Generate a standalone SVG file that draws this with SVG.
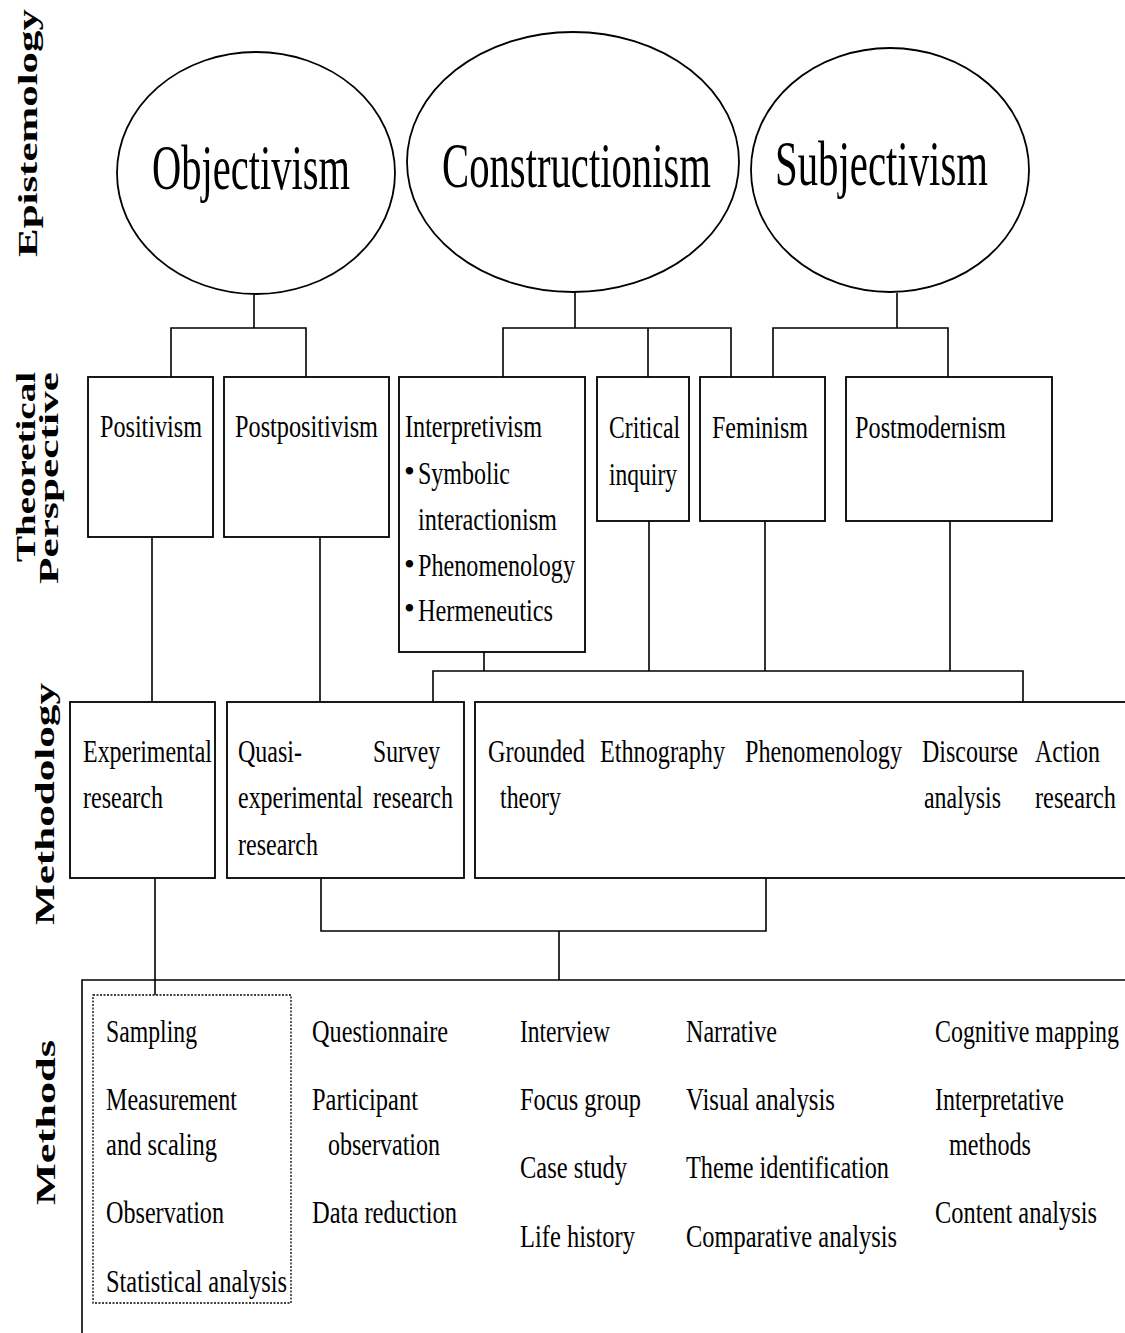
<svg xmlns="http://www.w3.org/2000/svg" width="1125" height="1333" viewBox="0 0 1125 1333">
  <style>
    .shape { fill: #fff; stroke: #000; stroke-width: 1.8; }
    .wire { fill: none; stroke: #000; stroke-width: 1.6; }
    .dots { fill: none; stroke: #000; stroke-width: 1.3; stroke-dasharray: 2 1.5; }
    text { font-family: "Liberation Serif", "Times New Roman", serif; fill: #000; }
    .big { font-size: 64px; }
    .lbl { font-size: 31px; }
    .side { font-size: 27px; font-weight: bold; }
  </style>
  <rect width="1125" height="1333" fill="#fff"/>

  <!-- Level labels, rotated -->
  <g id="level-labels">
    <text class="side" transform="translate(37,257) rotate(-90)" textLength="248" lengthAdjust="spacingAndGlyphs">Epistemology</text>
    <text class="side" transform="translate(35,562) rotate(-90)" textLength="190" lengthAdjust="spacingAndGlyphs">Theoretical</text>
    <text class="side" transform="translate(58,584) rotate(-90)" textLength="212" lengthAdjust="spacingAndGlyphs">Perspective</text>
    <text class="side" transform="translate(54,925) rotate(-90)" textLength="242" lengthAdjust="spacingAndGlyphs">Methodology</text>
    <text class="side" transform="translate(55,1205) rotate(-90)" textLength="165" lengthAdjust="spacingAndGlyphs">Methods</text>
  </g>

  <!-- Connectors -->
  <g id="connectors" class="wire">
    <path d="M254 295 V328 M171 377 V328 H306 V377"/>
    <path d="M575 292 V328 M503 377 V328 H731 V377 M648 328 V377"/>
    <path d="M897 293 V328 M773 377 V328 H948 V377"/>
    <path d="M152 537 V702"/>
    <path d="M320 537 V702"/>
    <path d="M484 652 V671 M649 521 V671 M765 521 V671 M950 521 V671"/>
    <path d="M433 702 V671 H1023 V702"/>
    <path d="M321 878 V931 H766 V878 M559 931 V980"/>
    <path d="M155 878 V995"/>
  </g>

  <!-- Epistemology -->
  <g id="objectivism">
    <ellipse class="shape" cx="256" cy="173" rx="139" ry="121"/>
    <text class="big" x="152" y="189" textLength="198" lengthAdjust="spacingAndGlyphs">Objectivism</text>
  </g>
  <g id="constructionism">
    <ellipse class="shape" cx="573" cy="162" rx="166" ry="130"/>
    <text class="big" x="442" y="187" textLength="269" lengthAdjust="spacingAndGlyphs">Constructionism</text>
  </g>
  <g id="subjectivism">
    <ellipse class="shape" cx="890" cy="170" rx="139" ry="122"/>
    <text class="big" x="775" y="185" textLength="213" lengthAdjust="spacingAndGlyphs">Subjectivism</text>
  </g>

  <!-- Theoretical perspective -->
  <g id="positivism">
    <rect class="shape" x="88" y="377" width="125" height="160"/>
    <text class="lbl" x="100" y="437" textLength="102" lengthAdjust="spacingAndGlyphs">Positivism</text>
  </g>
  <g id="postpositivism">
    <rect class="shape" x="224" y="377" width="165" height="160"/>
    <text class="lbl" x="235" y="437" textLength="143" lengthAdjust="spacingAndGlyphs">Postpositivism</text>
  </g>
  <g id="interpretivism">
    <rect class="shape" x="399" y="377" width="186" height="275"/>
    <text class="lbl" x="405" y="437" textLength="137" lengthAdjust="spacingAndGlyphs">Interpretivism</text>
    <text class="lbl" x="404" y="482">•</text>
    <text class="lbl" x="418" y="484" textLength="92" lengthAdjust="spacingAndGlyphs">Symbolic</text>
    <text class="lbl" x="418" y="530" textLength="139" lengthAdjust="spacingAndGlyphs">interactionism</text>
    <text class="lbl" x="404" y="575">•</text>
    <text class="lbl" x="418" y="576" textLength="157" lengthAdjust="spacingAndGlyphs">Phenomenology</text>
    <text class="lbl" x="404" y="619">•</text>
    <text class="lbl" x="418" y="621" textLength="135" lengthAdjust="spacingAndGlyphs">Hermeneutics</text>
  </g>
  <g id="critical-inquiry">
    <rect class="shape" x="597" y="377" width="92" height="144"/>
    <text class="lbl" x="609" y="438" textLength="71" lengthAdjust="spacingAndGlyphs">Critical</text>
    <text class="lbl" x="609" y="485" textLength="68" lengthAdjust="spacingAndGlyphs">inquiry</text>
  </g>
  <g id="feminism">
    <rect class="shape" x="700" y="377" width="125" height="144"/>
    <text class="lbl" x="712" y="438" textLength="96" lengthAdjust="spacingAndGlyphs">Feminism</text>
  </g>
  <g id="postmodernism">
    <rect class="shape" x="846" y="377" width="206" height="144"/>
    <text class="lbl" x="855" y="438" textLength="151" lengthAdjust="spacingAndGlyphs">Postmodernism</text>
  </g>

  <!-- Methodology -->
  <g id="experimental-research">
    <rect class="shape" x="70" y="702" width="145" height="176"/>
    <text class="lbl" x="83" y="762" textLength="129" lengthAdjust="spacingAndGlyphs">Experimental</text>
    <text class="lbl" x="83" y="808" textLength="80" lengthAdjust="spacingAndGlyphs">research</text>
  </g>
  <g id="quasi-survey">
    <rect class="shape" x="227" y="702" width="237" height="176"/>
    <text class="lbl" x="238" y="762" textLength="64" lengthAdjust="spacingAndGlyphs">Quasi-</text>
    <text class="lbl" x="238" y="808" textLength="125" lengthAdjust="spacingAndGlyphs">experimental</text>
    <text class="lbl" x="238" y="855" textLength="80" lengthAdjust="spacingAndGlyphs">research</text>
    <text class="lbl" x="373" y="762" textLength="67" lengthAdjust="spacingAndGlyphs">Survey</text>
    <text class="lbl" x="373" y="808" textLength="80" lengthAdjust="spacingAndGlyphs">research</text>
  </g>
  <g id="qualitative-methodologies">
    <rect class="shape" x="475" y="702" width="660" height="176"/>
    <text class="lbl" x="488" y="762" textLength="97" lengthAdjust="spacingAndGlyphs">Grounded</text>
    <text class="lbl" x="500" y="808" textLength="61" lengthAdjust="spacingAndGlyphs">theory</text>
    <text class="lbl" x="600" y="762" textLength="125" lengthAdjust="spacingAndGlyphs">Ethnography</text>
    <text class="lbl" x="745" y="762" textLength="157" lengthAdjust="spacingAndGlyphs">Phenomenology</text>
    <text class="lbl" x="922" y="762" textLength="96" lengthAdjust="spacingAndGlyphs">Discourse</text>
    <text class="lbl" x="924" y="808" textLength="77" lengthAdjust="spacingAndGlyphs">analysis</text>
    <text class="lbl" x="1035" y="762" textLength="65" lengthAdjust="spacingAndGlyphs">Action</text>
    <text class="lbl" x="1035" y="808" textLength="81" lengthAdjust="spacingAndGlyphs">research</text>
  </g>

  <!-- Methods -->
  <g id="methods">
    <path class="wire" d="M82 1333 V980 H1125"/>
    <rect class="dots" x="93" y="995" width="198" height="308"/>
    <g id="quantitative-methods">
      <text class="lbl" x="106" y="1042" textLength="91" lengthAdjust="spacingAndGlyphs">Sampling</text>
      <text class="lbl" x="106" y="1110" textLength="131" lengthAdjust="spacingAndGlyphs">Measurement</text>
      <text class="lbl" x="106" y="1155" textLength="111" lengthAdjust="spacingAndGlyphs">and scaling</text>
      <text class="lbl" x="106" y="1223" textLength="118" lengthAdjust="spacingAndGlyphs">Observation</text>
      <text class="lbl" x="106" y="1292" textLength="181" lengthAdjust="spacingAndGlyphs">Statistical analysis</text>
    </g>
    <g id="survey-methods">
      <text class="lbl" x="312" y="1042" textLength="136" lengthAdjust="spacingAndGlyphs">Questionnaire</text>
      <text class="lbl" x="312" y="1110" textLength="106" lengthAdjust="spacingAndGlyphs">Participant</text>
      <text class="lbl" x="328" y="1155" textLength="112" lengthAdjust="spacingAndGlyphs">observation</text>
      <text class="lbl" x="312" y="1223" textLength="145" lengthAdjust="spacingAndGlyphs">Data reduction</text>
    </g>
    <g id="fieldwork-methods">
      <text class="lbl" x="520" y="1042" textLength="90" lengthAdjust="spacingAndGlyphs">Interview</text>
      <text class="lbl" x="520" y="1110" textLength="121" lengthAdjust="spacingAndGlyphs">Focus group</text>
      <text class="lbl" x="520" y="1178" textLength="107" lengthAdjust="spacingAndGlyphs">Case study</text>
      <text class="lbl" x="520" y="1247" textLength="115" lengthAdjust="spacingAndGlyphs">Life history</text>
    </g>
    <g id="analysis-methods">
      <text class="lbl" x="686" y="1042" textLength="91" lengthAdjust="spacingAndGlyphs">Narrative</text>
      <text class="lbl" x="686" y="1110" textLength="149" lengthAdjust="spacingAndGlyphs">Visual analysis</text>
      <text class="lbl" x="686" y="1178" textLength="203" lengthAdjust="spacingAndGlyphs">Theme identification</text>
      <text class="lbl" x="686" y="1247" textLength="211" lengthAdjust="spacingAndGlyphs">Comparative analysis</text>
    </g>
    <g id="interpretive-methods">
      <text class="lbl" x="935" y="1042" textLength="184" lengthAdjust="spacingAndGlyphs">Cognitive mapping</text>
      <text class="lbl" x="935" y="1110" textLength="129" lengthAdjust="spacingAndGlyphs">Interpretative</text>
      <text class="lbl" x="949" y="1155" textLength="82" lengthAdjust="spacingAndGlyphs">methods</text>
      <text class="lbl" x="935" y="1223" textLength="162" lengthAdjust="spacingAndGlyphs">Content analysis</text>
    </g>
  </g>
</svg>
